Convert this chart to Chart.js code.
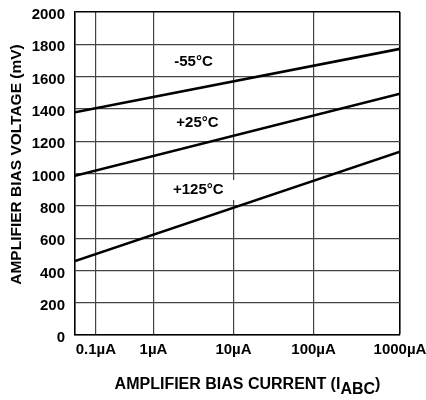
<!DOCTYPE html>
<html>
<head>
<meta charset="utf-8">
<script src="https://cdn.jsdelivr.net/npm/chart.js@4/dist/chart.umd.min.js"></script>
<style>
  html, body { margin: 0; padding: 0; background: #fff; }
  #wrap { width: 426px; height: 400px; position: relative; }
</style>
</head>
<body>
<div id="wrap"><canvas id="biasChart"></canvas></div>
<script>
const xMin = -0.98;
const xMax = 3.08;
const xGridPos = [-0.72, 0, 1, 2, 3.08];
const xTickLabels = ['0.1µA', '1µA', '10µA', '100µA', '1000µA'];

// bias voltage (mV) at the left and right edge of the plot
const temps = ['-55°C', '+25°C', '+125°C'];
const voltsLeft = [1379, 986, 458];
const voltsRight = [1772, 1494, 1135];

const yMin = 0;
const yMax = 2000;
const yStep = 200;

const yTitle = 'AMPLIFIER BIAS VOLTAGE (mV)';
const xTitleMain = 'AMPLIFIER BIAS CURRENT (I';
const xTitleSub = 'ABC';
const xTitleEnd = ')';

const FONT = '"Liberation Sans", Arial, Helvetica, sans-serif';
Chart.defaults.font.family = FONT;
Chart.defaults.color = '#000';

// where the temperature labels sit (axis units)
const curveLabels = [
    { text: temps[0], x: 0.50, y: 1690 },
    { text: temps[1], x: 0.55, y: 1313 },
    { text: temps[2], x: 0.56, y: 898 }
];

const curveLabelPlugin = {
    id: 'curveLabels',
    beforeDatasetsDraw(chart) {
        const ctx = chart.ctx;
        const xs = chart.scales.x;
        const ys = chart.scales.y;
        ctx.save();
        ctx.font = 'bold 15px ' + FONT;
        ctx.textAlign = 'center';
        ctx.textBaseline = 'middle';
        curveLabels.forEach(l => {
            const px = xs.getPixelForValue(l.x);
            const py = ys.getPixelForValue(l.y);
            const w = ctx.measureText(l.text).width;
            // white box behind the text, wider on the right like the original
            ctx.fillStyle = '#fff';
            ctx.fillRect(px - w / 2 - 8, py - 10, w + 8 + 12, 20);
            ctx.fillStyle = '#000';
            ctx.fillText(l.text, px, py);
        });
        ctx.restore();
    }
};

// axis titles (the x one needs a subscript, the y one sits a bit above centre)
const axisTitlePlugin = {
    id: 'axisTitles',
    afterDraw(chart) {
        const ctx = chart.ctx;
        const area = chart.chartArea;
        ctx.save();
        ctx.fillStyle = '#000';

        ctx.font = 'bold 16px ' + FONT;
        ctx.textAlign = 'left';
        ctx.textBaseline = 'alphabetic';
        const w1 = ctx.measureText(xTitleMain).width;
        const w2 = ctx.measureText(xTitleSub).width;
        const w3 = ctx.measureText(xTitleEnd).width;
        let x = (area.left + area.right) / 2 + 10 - (w1 + w2 + w3) / 2;
        const y = area.bottom + 54;
        ctx.fillText(xTitleMain, x, y);
        x += w1;
        ctx.fillText(xTitleSub, x, y + 5);
        x += w2;
        ctx.fillText(xTitleEnd, x, y);

        ctx.font = 'bold 15.5px ' + FONT;
        ctx.textAlign = 'center';
        ctx.textBaseline = 'middle';
        ctx.translate(17, (area.top + area.bottom) / 2 - 9);
        ctx.rotate(-Math.PI / 2);
        ctx.fillText(yTitle, 0, 0);
        ctx.restore();
    }
};

const datasets = temps.map((t, i) => ({
    label: t,
    data: [{ x: xMin, y: voltsLeft[i] }, { x: xMax, y: voltsRight[i] }],
    borderColor: '#000',
    borderWidth: 2.6,
    pointRadius: 0,
    tension: 0,
    fill: false
}));

new Chart(document.getElementById('biasChart'), {
    type: 'line',
    data: { datasets: datasets },
    plugins: [curveLabelPlugin, axisTitlePlugin],
    options: {
        responsive: true,
        maintainAspectRatio: false,
        animation: false,
        layout: { padding: { left: 0, top: 12, right: 26, bottom: 0 } },
        plugins: {
            legend: { display: false },
            tooltip: { enabled: false }
        },
        scales: {
            x: {
                type: 'linear',
                min: xMin,
                max: xMax,
                afterBuildTicks: scale => {
                    scale.ticks = xGridPos.map(v => ({ value: v }));
                },
                afterFit: scale => {
                    scale.height = 65;
                    scale.paddingLeft = 0;
                    scale.paddingRight = 0;
                },
                ticks: {
                    autoSkip: false,
                    maxRotation: 0,
                    padding: 6,
                    font: { size: 15, weight: 'bold' },
                    callback: (value, index) => xTickLabels[index]
                },
                grid: {
                    drawTicks: false,
                    color: ctx => (ctx.tick && ctx.tick.value === xMax) ? '#000' : '#444',
                    lineWidth: ctx => (ctx.tick && ctx.tick.value === xMax) ? 1.6 : 1.2
                },
                border: { color: '#000', width: 1.6 }
            },
            y: {
                min: yMin,
                max: yMax,
                afterFit: scale => {
                    scale.width = 75;
                    // keep the layout padding as the only top margin
                    scale.paddingTop = 0;
                    scale.paddingBottom = 0;
                },
                ticks: {
                    stepSize: yStep,
                    padding: 10,
                    labelOffset: 3,
                    font: { size: 15, weight: 'bold' },
                    callback: value => String(value)
                },
                grid: {
                    drawTicks: false,
                    color: ctx => (ctx.tick && ctx.tick.value === yMax) ? '#000' : '#444',
                    lineWidth: ctx => (ctx.tick && ctx.tick.value === yMax) ? 1.6 : 1.2
                },
                border: { color: '#000', width: 1.6 }
            }
        }
    }
});
</script>
</body>
</html>
